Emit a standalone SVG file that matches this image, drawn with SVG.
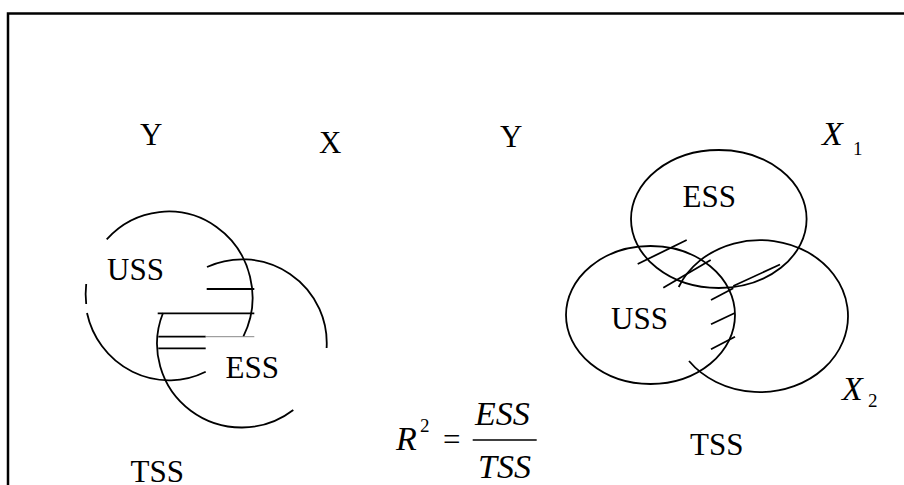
<svg xmlns="http://www.w3.org/2000/svg" width="904" height="485" viewBox="0 0 904 485">
<style>
.ln{fill:none;stroke:#000;stroke-width:1.8}
.t{font-family:"Liberation Serif","Times New Roman",serif;font-size:31px;fill:#000}
.mi{font-family:"Liberation Serif","Times New Roman",serif;font-style:italic;font-size:34px;fill:#000}
.sb{font-family:"Liberation Serif","Times New Roman",serif;font-size:19px;fill:#000}
</style>
<rect width="904" height="485" fill="#fff"/>
<path d="M8,490 V13.5 H910" fill="none" stroke="#000" stroke-width="2.5"/>

<g id="labels-top">
<text class="t" x="140" y="145">Y</text>
<text class="t" x="319" y="153">X</text>
<text class="t" x="500" y="147">Y</text>
</g>

<g id="left-uss">
<path class="ln" d="M106.7,239.3 A84,86 0 0 1 243.3,336.7"/>
<path class="ln" d="M86.2,284 A84,86 0 0 0 86.2,304"/>
<path class="ln" d="M87,313 A84,86 0 0 0 205.7,371.7"/>
<text class="t" x="107" y="280">USS</text>
</g>

<g id="left-ess">
<path class="ln" d="M207,267 A84.5,83.7 0 0 1 326.6,348"/>
<path class="ln" d="M293.3,410 A84.5,83.7 0 0 1 163,313"/>
<text class="t" x="225.5" y="377.5">ESS</text>
</g>

<g id="left-hatch">
<line class="ln" x1="206.7" y1="289" x2="254.3" y2="289"/>
<line class="ln" x1="157.7" y1="313.3" x2="254.3" y2="313.3"/>
<line class="ln" x1="158.3" y1="336.7" x2="205.7" y2="336.7"/>
<line x1="205.7" y1="336.7" x2="254.3" y2="336.7" stroke="#888" stroke-width="1"/>
<line class="ln" x1="158.3" y1="348.3" x2="205.7" y2="348.3"/>
</g>

<g id="tss-left"><text class="t" x="130.5" y="482">TSS</text></g>

<g id="right-ess">
<ellipse class="ln" cx="718.8" cy="219" rx="87.8" ry="69"/>
<text class="t" x="682.5" y="206.5">ESS</text>
</g>

<g id="right-uss">
<ellipse class="ln" cx="650.5" cy="315" rx="84.5" ry="69"/>
<text class="t" x="611" y="328.5">USS</text>
</g>

<g id="right-x2circle">
<path class="ln" d="M678.7,287 A88,76 0 1 1 689,361"/>
</g>

<g id="right-hatch">
<line class="ln" x1="637.7" y1="264" x2="686.7" y2="240"/>
<line class="ln" x1="663.3" y1="287.7" x2="710.7" y2="260"/>
<line class="ln" x1="733.3" y1="286" x2="780" y2="264.5"/>
<line class="ln" x1="711" y1="300" x2="733.3" y2="288.3"/>
<line class="ln" x1="711" y1="324.3" x2="734.3" y2="313.3"/>
<line class="ln" x1="711" y1="349.3" x2="735" y2="336.7"/>
</g>

<g id="label-x1">
<text class="mi" x="822" y="145">X</text>
<text class="sb" x="853" y="154.5">1</text>
</g>
<g id="label-x2">
<text class="mi" x="842" y="400">X</text>
<text class="sb" x="868" y="407">2</text>
</g>

<g id="tss-right"><text class="t" x="690" y="455">TSS</text></g>

<g id="formula">
<text class="mi" x="396" y="450">R</text>
<text class="sb" x="420" y="431.5">2</text>
<text class="t" x="443" y="450">=</text>
<line x1="472.7" y1="440" x2="536.7" y2="440" stroke="#000" stroke-width="1.5"/>
<text class="mi" x="475" y="425">ESS</text>
<text class="mi" x="478" y="478">TSS</text>
</g>
</svg>
